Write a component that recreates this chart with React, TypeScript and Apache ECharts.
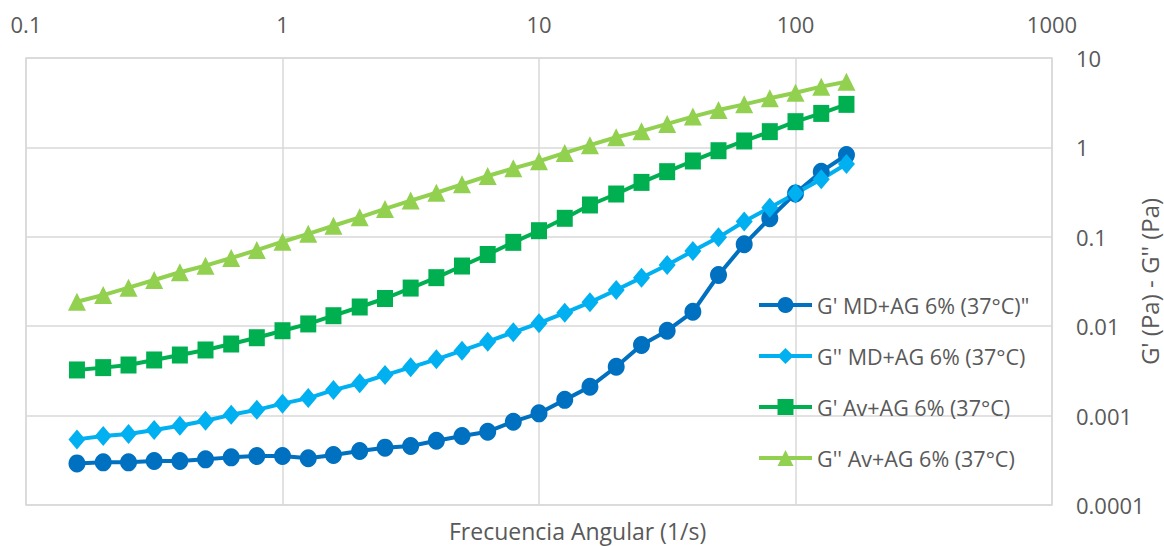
import React, { useEffect, useRef } from "react";
import * as echarts from "echarts";

const frequencies = [
  0.158, 0.2, 0.251, 0.316, 0.398, 0.501, 0.631, 0.794, 1, 1.26, 1.58,
  2, 2.51, 3.16, 3.98, 5.01, 6.31, 7.94, 10, 12.6, 15.8,
  20, 25.1, 31.6, 39.8, 50.1, 63.1, 79.4, 100, 126, 158,
];

const gPrimeMD = [
  0.000292, 0.0003, 0.0003, 0.00031, 0.00031, 0.000324, 0.000341, 0.000353, 0.000353, 0.000333, 0.000362,
  0.000402, 0.000438, 0.000457, 0.000524, 0.000591, 0.000661, 0.000855, 0.00106, 0.0015, 0.0021,
  0.00352, 0.00617, 0.00891, 0.0145, 0.0374, 0.0824, 0.161, 0.306, 0.535, 0.822,
];

const gDoublePrimeMD = [
  0.000542, 0.000591, 0.000622, 0.00069, 0.00077, 0.000877, 0.00102, 0.00116, 0.00136, 0.00157, 0.00193,
  0.0023, 0.00284, 0.00347, 0.00426, 0.00532, 0.00671, 0.00855, 0.0108, 0.0141, 0.0185,
  0.0254, 0.0349, 0.0484, 0.0693, 0.0986, 0.148, 0.212, 0.306, 0.44, 0.652,
];

const gPrimeAv = [
  0.00324, 0.00344, 0.00368, 0.00419, 0.00476, 0.00542, 0.00632, 0.00743, 0.0089, 0.0106, 0.0131,
  0.0164, 0.0204, 0.0267, 0.0349, 0.0471, 0.0634, 0.0867, 0.117, 0.161, 0.227,
  0.301, 0.406, 0.535, 0.705, 0.918, 1.18, 1.5, 1.94, 2.4, 3.03,
];

const gDoublePrimeAv = [
  0.0188, 0.0223, 0.027, 0.0329, 0.0401, 0.0475, 0.0579, 0.0711, 0.0881, 0.108, 0.133,
  0.165, 0.205, 0.254, 0.311, 0.386, 0.479, 0.583, 0.7, 0.867, 1.06,
  1.3, 1.52, 1.83, 2.21, 2.62, 3.03, 3.54, 4.09, 4.78, 5.43,
];

const seriesNames = [
  "G' MD+AG 6% (37°C)\"",
  "G'' MD+AG 6% (37°C)",
  "G' Av+AG 6% (37°C)",
  "G'' Av+AG 6% (37°C)",
];

const xTickLabels = ["0.1", "1", "10", "100", "1000"];
const yTickLabels = ["0.0001", "0.001", "0.01", "0.1", "1", "10"];

const xTitle = "Frecuencia Angular (1/s)";
const yTitle = "G' (Pa) - G'' (Pa)";

const TEXT = "#595959";
const FONT = "Open Sans";

export default function App() {
  const ref = useRef<HTMLDivElement>(null);

  useEffect(() => {
    if (!ref.current) return;
    const chart = echarts.init(ref.current, null, { renderer: "svg" });

    const pairs = (vals: number[]) => frequencies.map((f, i) => [f, vals[i]]);

    const seriesDefs = [
      { data: gPrimeMD, color: "#0070C0", symbol: "circle", size: [17, 18] },
      { data: gDoublePrimeMD, color: "#00B0F0", symbol: "diamond", size: [17, 20] },
      { data: gPrimeAv, color: "#00B050", symbol: "rect", size: [16, 17] },
      { data: gDoublePrimeAv, color: "#92D050", symbol: "triangle", size: [18, 18] },
    ];

    chart.setOption({
      animation: false,
      textStyle: { fontFamily: FONT },
      grid: {
        left: 26,
        right: 112,
        top: 58,
        bottom: 41,
        show: true,
        borderColor: "#d9d9d9",
        borderWidth: 1.5,
        outerBoundsMode: "none",
        containLabel: false,
      },
      xAxis: {
        type: "log",
        logBase: 10,
        min: 0.1,
        max: 1000,
        position: "top",
        axisLine: { show: false },
        axisTick: { show: false },
        splitLine: { show: true, lineStyle: { color: "#d9d9d9", width: 1.5 } },
        minorSplitLine: { show: false },
        axisLabel: {
          color: TEXT,
          fontSize: 22,
          fontFamily: FONT,
          margin: 23,
          formatter: (v: number) => xTickLabels[Math.round(Math.log10(v)) + 1] ?? "",
        },
      },
      yAxis: {
        type: "log",
        logBase: 10,
        min: 0.0001,
        max: 10,
        position: "right",
        axisLine: { show: false },
        axisTick: { show: false },
        splitLine: { show: true, lineStyle: { color: "#d9d9d9", width: 1.5 } },
        axisLabel: {
          color: TEXT,
          fontSize: 22,
          fontFamily: FONT,
          margin: 24,
          formatter: (v: number) => yTickLabels[Math.round(Math.log10(v)) + 4] ?? "",
        },
        name: yTitle,
        nameLocation: "middle",
        nameRotate: 90,
        nameGap: 85,
        nameMoveOverlap: false,
        nameTextStyle: { color: TEXT, fontSize: 24, fontFamily: FONT, lineHeight: 24 },
      },
      legend: {
        orient: "vertical",
        left: 757,
        top: 293,
        padding: 0,
        itemWidth: 53,
        itemHeight: 20,
        itemGap: 27,
        lineStyle: { width: 4 },
        textStyle: { color: TEXT, fontSize: 21.5, fontFamily: FONT, lineHeight: 24 },
        data: seriesNames,
      },
      graphic: [
        {
          type: "text",
          left: 449,
          top: 519,
          style: { text: xTitle, fill: TEXT, font: `23px "${FONT}"` },
        },
      ],
      series: seriesDefs.map((s, i) => ({
        name: seriesNames[i],
        type: "line",
        data: pairs(s.data),
        symbol: s.symbol,
        symbolSize: s.size,
        color: s.color,
        lineStyle: { color: s.color, width: 4 },
        itemStyle: { color: s.color },
      })),
    });

    return () => chart.dispose();
  }, []);

  return (
    <div
      ref={ref}
      style={{ position: "fixed", left: 0, top: 0, width: 1164, height: 546, background: "#fff" }}
    />
  );
}
